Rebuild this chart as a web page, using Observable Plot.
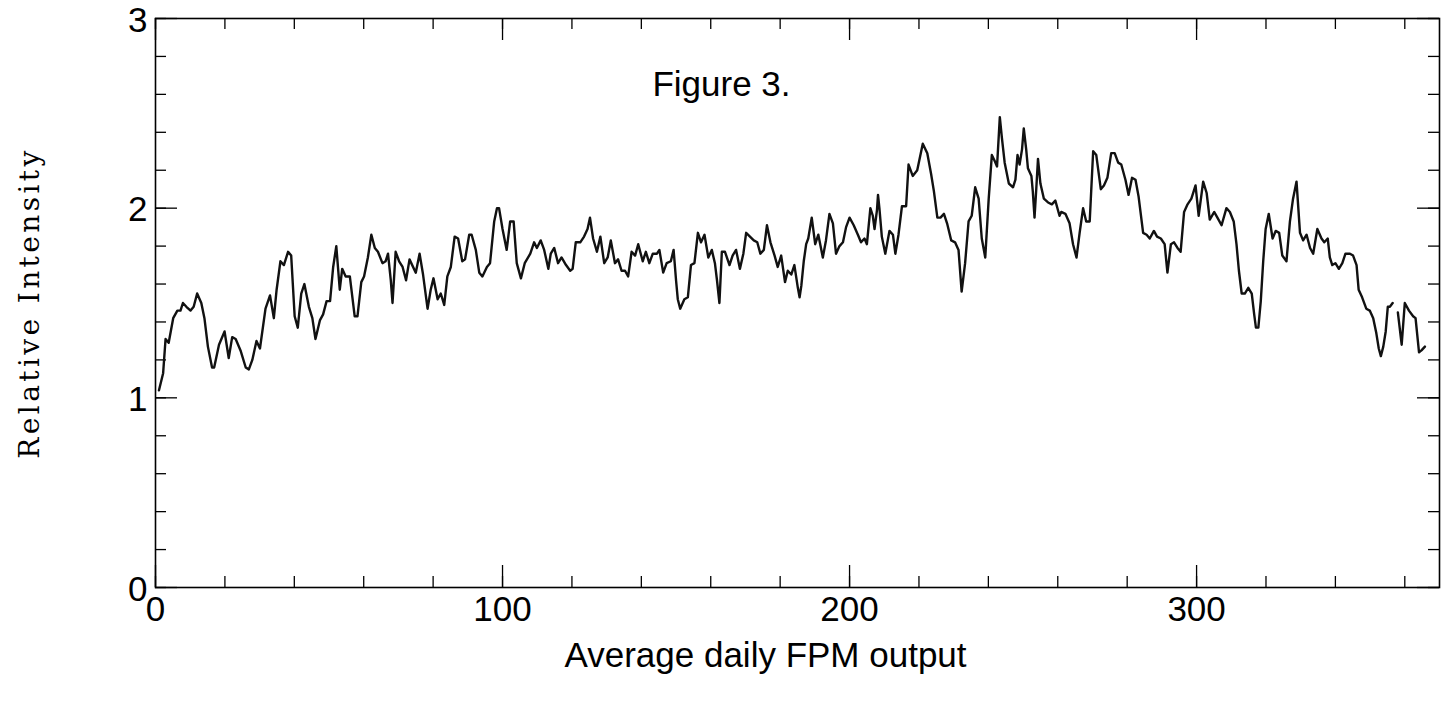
<!DOCTYPE html>
<html>
<head>
<meta charset="utf-8">
<script src="https://cdn.jsdelivr.net/npm/d3@7"></script>
<script src="https://cdn.jsdelivr.net/npm/@observablehq/plot@0.6"></script>
<style>
  html, body { margin: 0; padding: 0; background: #fff; }
  #chart svg { display: block; }
</style>
</head>
<body>
<div id="chart"></div>
<script>
// ---- data ----
const days = [
  1.0,2.2,2.9,3.8,5.1,6.3,7.2,7.9,8.9,10.1,11.0,12.0,13.2,14.1,15.1,16.3,16.9,18.3,19.9,21.1,22.1,23.1,24.5,26.0,26.9,27.9,29.1,30.1,31.7,33.0,34.1,34.9,36.0,
  37.0,38.2,39.1,40.1,41.0,42.0,42.9,44.2,45.2,46.1,47.4,48.3,49.3,50.3,51.2,52.1,53.1,53.8,54.8,56.0,57.4,58.2,59.3,60.1,61.2,62.2,63.2,64.1,65.4,66.3,67.0,67.8,68.3,69.2,70.2,71.2,72.2,73.2,
  75.0,76.1,77.1,78.4,79.3,80.1,81.3,82.2,83.2,84.1,85.1,86.2,87.2,88.4,89.2,90.4,91.1,92.3,93.3,94.2,95.5,96.4,97.6,98.4,99.0,100.0,101.2,102.2,103.2,104.1,105.3,106.4,108.0,109.1,109.9,111.0,
  112.0,113.2,113.9,114.9,116.0,117.0,118.3,119.5,120.2,121.1,122.4,123.5,124.5,125.2,126.1,127.2,128.2,129.3,130.3,131.2,132.4,133.3,134.3,135.3,136.2,137.2,138.2,139.1,140.4,141.3,142.3,143.3,144.5,145.2,146.3,147.3,148.5,
  149.3,150.0,150.5,151.2,152.4,153.4,154.3,155.3,156.3,157.2,158.2,159.3,160.3,161.2,161.8,162.5,163.2,164.1,165.4,166.3,167.3,168.4,169.4,170.2,171.3,172.4,173.4,174.3,175.3,176.2,177.2,178.4,179.3,180.3,181.4,182.2,183.2,184.1,185.1,185.6,
  186.1,186.8,187.5,188.1,189.1,190.1,191.0,192.3,193.2,194.2,195.2,196.1,197.1,198.1,199.0,200.0,201.2,202.4,203.3,204.3,205.0,206.0,206.7,207.2,207.9,208.2,208.6,209.3,210.3,211.5,212.5,213.2,214.1,215.1,216.3,217.0,218.2,219.5,221.1,222.4,223.5,
  224.3,225.3,226.2,227.2,228.1,229.3,230.4,231.4,232.3,233.3,234.3,235.2,236.2,237.2,238.1,239.1,240.1,241.0,241.8,242.5,243.3,243.9,244.7,245.9,247.1,247.8,248.4,249.0,249.7,250.2,250.9,251.4,252.4,252.8,253.3,253.8,254.3,255.0,256.0,257.2,258.3,259.3,260.5,
  261.0,262.2,263.4,264.4,265.4,266.3,267.3,268.2,269.2,270.2,271.1,272.4,273.3,274.3,275.4,276.4,277.4,278.3,279.5,280.4,281.4,282.4,283.3,284.6,285.6,286.5,287.7,288.6,289.7,290.8,291.6,292.6,293.5,294.5,295.4,296.4,297.4,298.5,
  299.7,300.6,301.9,302.9,303.8,305.1,306.0,307.2,308.6,309.6,310.7,311.5,312.2,313.0,313.9,314.9,315.9,316.6,317.1,317.8,318.5,319.2,319.9,320.8,321.9,322.8,323.8,324.7,325.9,326.9,327.8,328.8,329.8,330.7,331.7,332.7,333.6,334.8,336.0,
  336.8,337.8,338.4,339.1,340.0,341.0,342.0,342.9,344.2,345.1,346.1,346.7,347.7,348.9,349.9,350.9,351.8,352.5,353.1,353.8,354.5,355.1,355.7,356.5,357.2,358.0,359.1,360.0,361.2,362.4,363.1,364.1,364.8,365.8
];
const intensity = [
  1.04,1.13,1.31,1.29,1.42,1.46,1.46,1.50,1.48,1.46,1.48,1.55,1.50,1.42,1.27,1.16,1.16,1.28,1.35,1.21,1.32,1.31,1.25,1.16,1.15,1.20,1.30,1.26,1.47,1.54,1.42,1.57,1.72,
  1.70,1.77,1.75,1.43,1.37,1.55,1.60,1.48,1.42,1.31,1.41,1.44,1.51,1.51,1.69,1.80,1.57,1.68,1.64,1.64,1.43,1.43,1.61,1.64,1.74,1.86,1.79,1.77,1.71,1.72,1.76,1.62,1.50,1.77,1.72,1.69,1.62,1.73,
  1.66,1.76,1.65,1.47,1.57,1.63,1.52,1.55,1.49,1.64,1.69,1.85,1.84,1.72,1.73,1.86,1.86,1.78,1.66,1.64,1.69,1.71,1.93,2.00,2.00,1.89,1.78,1.93,1.93,1.71,1.63,1.71,1.76,1.82,1.79,1.83,
  1.78,1.68,1.76,1.79,1.71,1.74,1.70,1.67,1.68,1.82,1.82,1.85,1.89,1.95,1.84,1.77,1.85,1.71,1.74,1.83,1.71,1.73,1.67,1.67,1.64,1.77,1.75,1.81,1.72,1.77,1.71,1.76,1.76,1.78,1.66,1.71,1.72,
  1.78,1.62,1.52,1.47,1.52,1.53,1.70,1.71,1.87,1.82,1.86,1.74,1.78,1.71,1.62,1.50,1.77,1.77,1.70,1.75,1.78,1.68,1.76,1.87,1.85,1.83,1.82,1.76,1.78,1.91,1.82,1.75,1.69,1.75,1.61,1.67,1.65,1.70,1.58,1.53,
  1.59,1.72,1.81,1.84,1.95,1.81,1.86,1.74,1.83,1.97,1.92,1.76,1.80,1.82,1.90,1.95,1.91,1.86,1.82,1.84,1.81,2.00,1.96,1.89,1.99,2.07,2.00,1.85,1.76,1.88,1.86,1.76,1.86,2.01,2.01,2.23,2.17,2.20,2.34,2.29,2.18,
  2.09,1.95,1.95,1.97,1.92,1.83,1.82,1.78,1.56,1.71,1.93,1.96,2.11,2.05,1.84,1.74,2.05,2.28,2.25,2.22,2.48,2.37,2.24,2.13,2.11,2.15,2.28,2.23,2.31,2.42,2.31,2.21,2.17,2.09,1.95,2.10,2.26,2.13,2.05,2.03,2.02,2.04,1.96,
  1.98,1.97,1.92,1.81,1.74,1.87,2.00,1.93,1.93,2.30,2.28,2.10,2.12,2.16,2.29,2.29,2.24,2.23,2.15,2.07,2.16,2.15,2.06,1.87,1.86,1.84,1.88,1.85,1.84,1.81,1.66,1.81,1.82,1.79,1.77,1.98,2.02,2.05,
  2.12,1.96,2.14,2.08,1.94,1.98,1.95,1.91,2.00,1.98,1.93,1.81,1.67,1.55,1.55,1.58,1.55,1.44,1.37,1.37,1.51,1.72,1.89,1.97,1.84,1.88,1.87,1.75,1.72,1.93,2.05,2.14,1.87,1.83,1.86,1.79,1.76,1.89,1.84,
  1.82,1.84,1.74,1.70,1.71,1.68,1.71,1.76,1.76,1.75,1.70,1.57,1.53,1.47,1.46,1.42,1.34,1.26,1.22,1.27,1.35,1.48,1.48,1.50,null,1.45,1.28,1.50,1.46,1.43,1.42,1.24,1.25,1.27
];
const xMinorTicks = d3.range(0, 370, 20);
const xMajorTicks = [0, 100, 200, 300];
const yMinorTicks = d3.range(0, 3.01, 0.2).map(v => +v.toFixed(1));
const yMajorTicks = [0, 1, 2, 3];
const xLabel = "Average daily FPM output";
const yLabel = "Relative Intensity";
const figTitle = "Figure 3.";

const data = days.map((d, i) => ({day: d, value: intensity[i]}));

// ---- layout ----
const W = 1456, H = 706;
const mL = 155, mR = 17, mT = 18, mB = 119;
const innerW = W - mL - mR, innerH = H - mT - mB;
const minorLen = 11, majorLen = 22;
const sans = "Liberation Sans, Arial, sans-serif";
const fs = 35;

const chart = Plot.plot({
  width: W,
  height: H,
  marginLeft: mL, marginRight: mR, marginTop: mT, marginBottom: mB,
  style: {fontFamily: sans, background: "#fff", color: "#000"},
  x: {domain: [0, 370]},
  y: {domain: [0, 3]},
  marks: [
    // tick labels
    Plot.axisX({ticks: xMajorTicks, tickFormat: d => String(d), tickSize: 0, tickPadding: 9, fontSize: fs, label: null, fontFamily: sans}),
    Plot.axisY({ticks: yMajorTicks, tickFormat: d => String(d), tickSize: 0, tickPadding: 8, dy: 2, fontSize: fs, label: null, fontFamily: sans}),
    // inward ticks (bottom / top)
    Plot.tickX(xMinorTicks, {x: d => d, insetTop: innerH - minorLen, stroke: "#000", strokeWidth: 1.3}),
    Plot.tickX(xMajorTicks, {x: d => d, insetTop: innerH - majorLen, stroke: "#000", strokeWidth: 1.3}),
    Plot.tickX(xMinorTicks, {x: d => d, insetBottom: innerH - minorLen, stroke: "#000", strokeWidth: 1.3}),
    Plot.tickX(xMajorTicks, {x: d => d, insetBottom: innerH - majorLen, stroke: "#000", strokeWidth: 1.3}),
    // inward ticks (left / right)
    Plot.tickY(yMinorTicks, {y: d => d, insetRight: innerW - minorLen, stroke: "#000", strokeWidth: 1.3}),
    Plot.tickY(yMajorTicks, {y: d => d, insetRight: innerW - majorLen, stroke: "#000", strokeWidth: 1.3}),
    Plot.tickY(yMinorTicks, {y: d => d, insetLeft: innerW - minorLen, stroke: "#000", strokeWidth: 1.3}),
    Plot.tickY(yMajorTicks, {y: d => d, insetLeft: innerW - majorLen, stroke: "#000", strokeWidth: 1.3}),
    Plot.frame({stroke: "#000", strokeWidth: 1.6}),
    // data line
    Plot.line(data, {x: "day", y: "value", stroke: "#111", strokeWidth: 2.4, strokeLinejoin: "round"}),
    // title inside the frame
    Plot.text([figTitle], {frameAnchor: "top", dx: -76, dy: 66, fontSize: fs, fontFamily: sans, fill: "#000", textAnchor: "middle", lineAnchor: "middle"}),
    // axis titles
    Plot.text([xLabel], {frameAnchor: "bottom", dx: -32, dy: 68, fontSize: fs, fontFamily: sans, fill: "#000", textAnchor: "middle", lineAnchor: "middle"}),
    Plot.text([yLabel], {frameAnchor: "left", dx: -125, rotate: -90, fontSize: 28, fontFamily: "DejaVu Serif, serif", fill: "#000", textAnchor: "middle", lineAnchor: "middle"})
  ]
});
// widen the serif y-axis title's letter spacing, as in the reference
d3.select(chart).selectAll("text").filter(function () { return this.textContent === yLabel; })
  .attr("letter-spacing", "3.4px");
document.getElementById("chart").appendChild(chart);
</script>
</body>
</html>
